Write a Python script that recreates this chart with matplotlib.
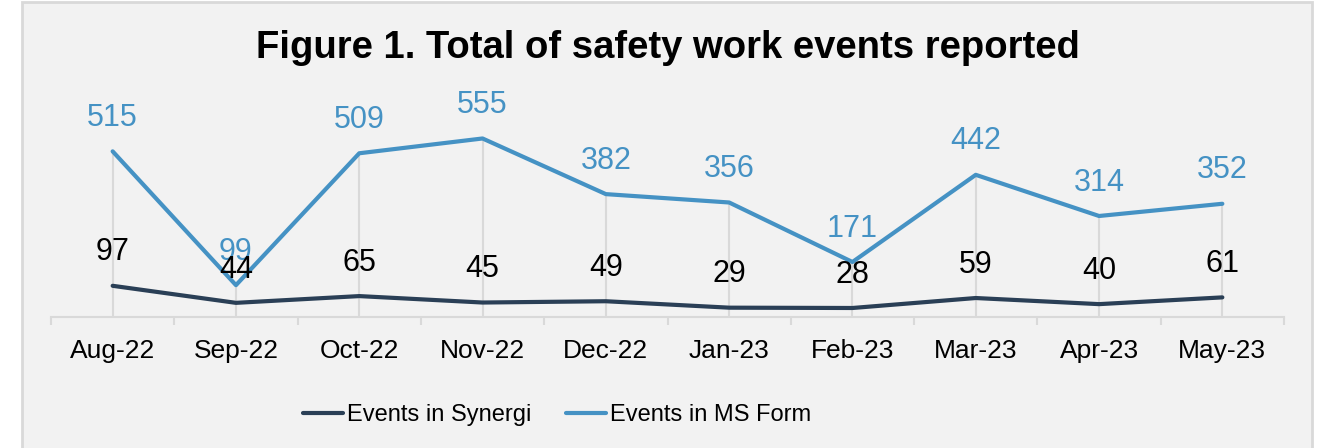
import matplotlib.pyplot as plt
from matplotlib.patches import Rectangle

plt.rcParams["font.family"] = ["Liberation Sans", "DejaVu Sans"]

months = ["Aug-22", "Sep-22", "Oct-22", "Nov-22", "Dec-22",
          "Jan-23", "Feb-23", "Mar-23", "Apr-23", "May-23"]
synergi = [97, 44, 65, 45, 49, 29, 28, 59, 40, 61]
ms_form = [515, 99, 509, 555, 382, 356, 171, 442, 314, 352]

DARK = "#2A3F56"
BLUE = "#4592C4"
GRID = "#D9D9D9"

W, H = 1318, 448
fig = plt.figure(figsize=(W / 100, H / 100), dpi=100)
fig.patch.set_facecolor("white")

# chart area background with light border (behind the axes)
fig.patches.append(Rectangle((22 / W, -0.05), (1312 - 22) / W, 1.05 - 2 / H,
                             transform=fig.transFigure, facecolor="#F2F2F2",
                             edgecolor=GRID, linewidth=2, zorder=-10))

ax = fig.add_axes([51 / W, (H - 317) / H, (1284 - 51) / W, (317 - 124) / H])
ax.set_facecolor("none")
ax.set_zorder(1)

x = list(range(len(months)))

# drop lines from the highest series down to the axis
ax.vlines(x, 0, ms_form, color=GRID, linewidth=1.5, zorder=1)

ax.plot(x, synergi, color=DARK, linewidth=3, solid_capstyle="round",
        label="Events in Synergi", zorder=3)
ax.plot(x, ms_form, color=BLUE, linewidth=3, solid_capstyle="round",
        label="Events in MS Form", zorder=3)

for xi, v in zip(x, ms_form):
    ax.annotate(str(v), (xi, v), xytext=(0, 24), textcoords="offset points",
                ha="center", va="center", fontsize=22, color=BLUE, zorder=4)
for xi, v in zip(x, synergi):
    ax.annotate(str(v), (xi, v), xytext=(0, 24), textcoords="offset points",
                ha="center", va="center", fontsize=22, color="black", zorder=4)

ax.set_xlim(-0.5, len(months) - 0.5)
ax.set_ylim(0, 600)
ax.set_yticks([])

ax.set_xticks(x)
ax.set_xticklabels(months, fontsize=19)
ax.set_xticks([i - 0.5 for i in range(len(months) + 1)], minor=True)
ax.tick_params(axis="x", which="major", length=0, pad=16)
ax.tick_params(axis="x", which="minor", length=6, width=1.5, color=GRID)

for side in ["top", "left", "right"]:
    ax.spines[side].set_visible(False)
ax.spines["bottom"].set_color(GRID)
ax.spines["bottom"].set_linewidth(1.5)

fig.text(0.507, 1 - 48 / H, "Figure 1. Total of safety work events reported",
         ha="center", va="center", fontsize=27.5, fontweight="bold")

fig.legend(loc="center", bbox_to_anchor=(557 / W, 1 - 415 / H), ncol=2,
           frameon=False, fontsize=17, handlelength=1.7, handletextpad=0.15,
           columnspacing=1.5)

fig.savefig("out.png", dpi=100, facecolor=fig.get_facecolor())
